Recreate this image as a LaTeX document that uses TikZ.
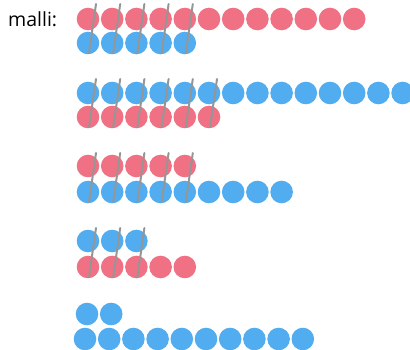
\documentclass[tikz,border=0pt]{standalone}
\usepackage{fontspec}
\setmainfont{Open Sans}
\usepackage{xcolor}
\definecolor{beadred}{RGB}{240,112,132}
\definecolor{beadblue}{RGB}{82,172,240}
\definecolor{strikegray}{RGB}{150,150,150}

\begin{document}
\begin{tikzpicture}[x=1pt, y=-1pt,
  redbead/.style={fill=beadred},
  bluebead/.style={fill=beadblue},
  strike/.style={draw=strikegray, line width=2pt, line cap=round}]
  \useasboundingbox (0,0) rectangle (410,350);
  % Label
  \node[anchor=west, inner sep=0pt, font=\fontsize{19.5}{22}\selectfont] (label) at (8,19) {malli:};
  % Row 1: 12 red over 5 blue
  \foreach \i in {0,...,11} \fill[redbead] (88+24.2*\i,19) circle (11.3);
  \foreach \i in {0,...,4} \fill[bluebead] (88+24.2*\i,43) circle (11.3);
  \foreach \i in {0,...,4} \draw[strike] (89+24.2*\i,53) -- (96+24.2*\i,4);
  % Row 2: 14 blue over 6 red
  \foreach \i in {0,...,13} \fill[bluebead] (88+24.2*\i,93) circle (11.3);
  \foreach \i in {0,...,5} \fill[redbead] (88+24.2*\i,117) circle (11.3);
  \foreach \i in {0,...,5} \draw[strike] (89+24.2*\i,127) -- (96+24.2*\i,79);
  % Row 3: 5 red over 9 blue
  \foreach \i in {0,...,4} \fill[redbead] (88+24.2*\i,166) circle (11.3);
  \foreach \i in {0,...,8} \fill[bluebead] (88+24.2*\i,192) circle (11.3);
  \foreach \i in {0,...,4} \draw[strike] (89+24.2*\i,202) -- (96+24.2*\i,153);
  % Row 4: 3 blue over 5 red
  \foreach \i in {0,...,2} \fill[bluebead] (88+24.2*\i,241) circle (11.3);
  \foreach \i in {0,...,4} \fill[redbead] (88+24.2*\i,267) circle (11.3);
  \foreach \i in {0,...,2} \draw[strike] (89+24.2*\i,277) -- (96+24.2*\i,228);
  % Row 5: 2 blue over 10 blue
  \foreach \i in {0,...,1} \fill[bluebead] (87+24.2*\i,314) circle (11.3);
  \foreach \i in {0,...,9} \fill[bluebead] (85+24.2*\i,339) circle (11.3);
\end{tikzpicture}
\end{document}
